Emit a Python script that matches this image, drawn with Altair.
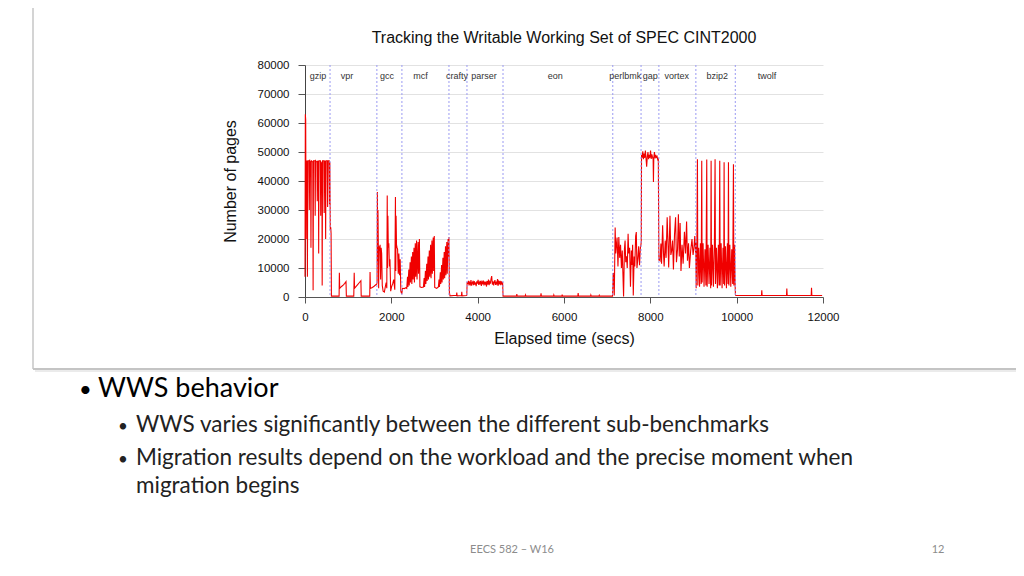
import altair as alt
import pandas as pd

# ---------------- data (time in secs, writable working set in pages) ----------------
gzip = [(0, 7000), (8, 63000), (16, 61000), (24, 20000), (32, 47000), (50, 46500), (56, 7000), (64, 47000),
        (92, 47000), (100, 30000), (108, 47000), (130, 46500), (138, 17000), (146, 47000), (180, 46500),
        (188, 2300), (196, 47000), (228, 47000), (236, 28000), (244, 47000), (276, 46500), (284, 33000),
        (292, 47000), (310, 46500), (317, 15000), (324, 47000), (356, 47000), (364, 28000), (372, 46500),
        (392, 46000), (398, 4000), (406, 47000), (436, 47000), (444, 29000), (452, 47000), (470, 46500),
        (478, 20000), (486, 47000), (516, 47000), (524, 31000), (532, 47000), (560, 47000), (568, 32000),
        (576, 46500), (586, 23000), (596, 24000), (604, 22000), (612, 300)]
vpr = [(640, 300), (790, 300), (796, 8400), (804, 3000), (830, 3400), (860, 3800), (890, 4200), (920, 4700),
       (950, 5300), (958, 300), (1130, 300), (1140, 8400), (1148, 3000), (1180, 3600), (1220, 4300),
       (1260, 5000), (1295, 5600), (1302, 300), (1500, 300), (1507, 8600), (1515, 3000), (1560, 3300),
       (1600, 3700), (1640, 4200), (1662, 4400)]
gcc = [(1670, 5000), (1677, 36200), (1684, 12000), (1690, 30000), (1698, 18400), (1706, 3000), (1716, 17500),
       (1728, 16000), (1740, 18000), (1752, 6000), (1764, 17000), (1776, 15000), (1790, 4000), (1810, 2000),
       (1839, 1700), (1860, 3500), (1880, 5000), (1895, 3000), (1905, 35000), (1912, 10000), (1920, 28000),
       (1930, 17000), (1942, 18500), (1955, 10500), (1968, 13000), (1985, 2000), (2005, 3500), (2030, 4500),
       (2055, 6000), (2080, 2500), (2095, 34500), (2103, 9000), (2110, 28000), (2120, 18000), (2132, 17000),
       (2145, 16500), (2160, 8000), (2175, 15000), (2190, 7500), (2205, 13000), (2220, 2000), (2241, 1000)]
mcf = [(2260, 3000), (2300, 2900), (2340, 3200), (2357, 3000), (2375, 7000), (2385, 3500), (2405, 9500),
       (2415, 4000), (2435, 12000), (2445, 5000), (2465, 14000), (2475, 4500), (2495, 15500), (2505, 6000),
       (2525, 17000), (2535, 5000), (2555, 18500), (2565, 7000), (2585, 19500), (2595, 6000), (2620, 19000),
       (2630, 8000), (2650, 20000), (2662, 3500), (2700, 3300), (2743, 3400), (2760, 6500), (2770, 3500),
       (2790, 9000), (2800, 4500), (2820, 11500), (2830, 5500), (2850, 14000), (2860, 6000), (2880, 16000),
       (2890, 7000), (2910, 18000), (2920, 6500), (2940, 19500), (2950, 8000), (2970, 20500), (2980, 9000),
       (2995, 21000), (3005, 3300), (3050, 3000), (3090, 3500), (3105, 6000), (3115, 3500), (3135, 8500),
       (3145, 4500), (3165, 11000), (3175, 5000), (3195, 13500), (3205, 6000), (3225, 15500), (3235, 6500),
       (3255, 17500), (3265, 7500), (3285, 19000), (3295, 8000), (3315, 20000), (3325, 14000), (3335, 20700),
       (3345, 1500)]
crafty = [(3360, 400), (3450, 500), (3510, 500), (3516, 1500), (3524, 400), (3625, 500), (3632, 1800),
          (3640, 400), (3740, 500)]
parser = [(3748, 600), (3756, 5200), (3770, 4500), (3785, 5600), (3800, 4000), (3815, 5000), (3830, 4400),
          (3845, 5800), (3860, 3900), (3875, 4900), (3890, 5300), (3905, 4100), (3920, 5500), (3935, 4300),
          (3950, 5000), (3965, 3700), (3980, 5400), (3995, 4600), (4010, 5900), (4025, 4200), (4040, 5100),
          (4055, 4400), (4070, 5600), (4085, 3800), (4100, 5200), (4115, 4700), (4130, 5700), (4145, 4000),
          (4160, 5300), (4175, 4500), (4190, 5000), (4205, 3600), (4220, 5500), (4235, 4300), (4250, 6000),
          (4265, 4100), (4280, 5200), (4295, 4600), (4310, 6300), (4325, 7200), (4340, 4300), (4355, 5400),
          (4370, 4000), (4385, 5100), (4400, 5800), (4415, 4200), (4430, 5000), (4445, 4500), (4460, 6200),
          (4475, 3900), (4490, 5300), (4505, 4700), (4520, 5600), (4535, 4100), (4550, 5400), (4565, 4600),
          (4578, 5200), (4588, 300)]
eon = [(4600, 300), (4900, 300), (4907, 1000), (4915, 300), (5100, 300), (5108, 700), (5116, 300),
       (5460, 300), (5468, 1300), (5476, 300), (5757, 300), (5764, 700), (5772, 300), (5950, 300),
       (5958, 800), (5966, 300), (6320, 300), (6328, 1400), (6336, 300), (6615, 300), (6622, 700),
       (6630, 300), (6810, 300), (6817, 600), (6825, 300), (7125, 300)]
perlbmk = [(7140, 8300), (7150, 8000), (7165, 500), (7185, 24000), (7200, 15000), (7215, 18000),
           (7230, 20500), (7250, 10500), (7270, 20700), (7290, 13500), (7310, 18000), (7330, 10000),
           (7350, 16000), (7365, 8000), (7380, 200), (7400, 16500), (7415, 19500), (7430, 12000),
           (7450, 14000), (7465, 10000), (7485, 21800), (7500, 15000), (7520, 17000), (7540, 3500),
           (7560, 16000), (7575, 11000), (7590, 18000), (7605, 500), (7625, 14000), (7640, 10500),
           (7660, 21000), (7675, 22400), (7690, 10000), (7710, 13000), (7730, 17500), (7750, 11000),
           (7770, 17000), (7782, 18000)]
gap = [(7790, 19000), (7796, 49000), (7810, 48000), (7825, 50200), (7840, 47500), (7855, 49500),
       (7870, 48000), (7885, 50500), (7900, 47800), (7915, 44900), (7930, 48500), (7945, 50000),
       (7960, 47500), (7975, 49000), (7990, 48000), (8005, 50500), (8020, 47600), (8035, 49200),
       (8050, 48300), (8065, 47500), (8072, 39700), (8080, 48000), (8095, 50000), (8110, 47800),
       (8125, 49000), (8140, 48200), (8155, 48500), (8170, 47500), (8185, 48000), (8198, 12600)]
vortex = [(8210, 13000), (8225, 12600), (8245, 18400), (8260, 11500), (8285, 24700), (8305, 15000),
          (8320, 10500), (8345, 19500), (8365, 13500), (8390, 27500), (8410, 18000), (8425, 10200),
          (8455, 28000), (8475, 14500), (8495, 16000), (8515, 19500), (8535, 9500), (8560, 21500),
          (8585, 27500), (8605, 12000), (8630, 16500), (8650, 28500), (8670, 14000), (8690, 25500),
          (8710, 9000), (8735, 18000), (8760, 11500), (8790, 22500), (8815, 15000), (8840, 26000),
          (8860, 12500), (8885, 18500), (8905, 10000), (8935, 16000), (8965, 20000), (8990, 14500),
          (9010, 17000), (9030, 21000), (9047, 15500)]
bzip2 = [(9050, 19000), (9062, 3000), (9078, 18000), (9091, 47500), (9100, 4000), (9120, 17000),
         (9140, 3500), (9160, 18500), (9178, 4500), (9191, 47000), (9200, 5000), (9222, 18500),
         (9244, 3500), (9266, 16500), (9288, 4000), (9307, 47400), (9316, 3500), (9338, 18000),
         (9360, 4500), (9382, 17000), (9398, 3000), (9408, 47000), (9418, 4000), (9440, 18000),
         (9462, 3500), (9484, 17500), (9500, 47500), (9510, 4500), (9532, 17000), (9554, 3000),
         (9576, 18000), (9594, 4000), (9608, 47000), (9618, 4000), (9640, 18500), (9662, 3000),
         (9684, 17000), (9700, 4500), (9709, 46500), (9719, 4000), (9741, 17500), (9763, 3000),
         (9785, 18500), (9800, 4500), (9810, 46500), (9820, 4000), (9842, 18000), (9864, 3500),
         (9886, 16500), (9908, 4500), (9925, 45800), (9935, 4000), (9952, 18000), (9965, 3500),
         (9972, 800)]
twolf = [(9980, 500), (10575, 500), (10582, 2300), (10590, 500), (11155, 500), (11162, 2900),
         (11170, 500), (11727, 500), (11734, 3200), (11742, 500), (11980, 500)]

bench_names = ["gzip", "vpr", "gcc", "mcf", "crafty", "parser", "eon",
               "perlbmk", "gap", "vortex", "bzip2", "twolf"]
bench_label_t = [301, 974, 1901, 2677, 3523, 4149, 5795, 7418, 7997, 8611, 9550, 10700]
bench_boundaries = [580, 1665, 2245, 3335, 3752, 4587, 7130, 7785, 8198, 9055, 9968]

x_ticks = [0, 2000, 4000, 6000, 8000, 10000, 12000]
y_ticks = [0, 10000, 20000, 30000, 40000, 50000, 60000, 70000, 80000]

chart_title = "Tracking the Writable Working Set of SPEC CINT2000"
x_title = "Elapsed time (secs)"
y_title = "Number of pages"
bullet_main = "WWS behavior"
bullet_sub = ["WWS varies significantly between the different sub-benchmarks",
              "Migration results depend on the workload and the precise moment when",
              "migration begins"]
footer = "EECS 582 – W16"
page_no = "12"

# ---------------- build tables ----------------
rows = []
for seg in [gzip, vpr, gcc, mcf, crafty, parser, eon, perlbmk, gap, vortex, bzip2, twolf]:
    rows.extend(seg)
df_line = pd.DataFrame(rows, columns=["time", "pages"])
df_div = pd.DataFrame({"t": bench_boundaries})
df_lab = pd.DataFrame({"name": bench_names, "t": bench_label_t})

CF = "Liberation Sans"
SF = "Lato"

xscale = alt.Scale(domain=[0, 12000], nice=False, zero=False)
yscale = alt.Scale(domain=[0, 80000], nice=False)

line = alt.Chart(df_line).mark_line(color="#f00000", strokeWidth=1.1, interpolate="linear").encode(
    x=alt.X("time:Q", scale=xscale,
            axis=alt.Axis(values=x_ticks, format="d", grid=False, labelFlush=False, labelOverlap=False,
                          labelFont=CF, labelFontSize=11.5, labelColor="#111", labelPadding=8,
                          tickSize=6, tickColor="#555", domainColor="#555",
                          title=x_title, titleFont=CF, titleFontSize=16, titleFontWeight="normal",
                          titleColor="#111", titlePadding=8)),
    y=alt.Y("pages:Q", scale=yscale,
            axis=alt.Axis(values=y_ticks, format="d", grid=True, gridColor="#e2e2e2",
                          labelFont=CF, labelFontSize=11.5, labelColor="#111", labelPadding=9,
                          tickSize=7, tickColor="#555", domainColor="#444", labelFlush=False,
                          title=y_title, titleFont=CF, titleFontSize=16, titleFontWeight="normal",
                          titleColor="#111", titlePadding=19)),
)

dividers = alt.Chart(df_div).mark_rule(color="#9a9af2", strokeDash=[2, 2], strokeWidth=1).encode(
    x=alt.X("t:Q", scale=xscale)
)

labels = alt.Chart(df_lab).mark_text(font=CF, fontSize=9, color="#333", align="center",
                                     baseline="alphabetic").encode(
    x=alt.X("t:Q", scale=xscale), y=alt.value(14), text="name:N"
)


def txt(s, x, y, size, color="#000", font=SF, align="left", weight="normal"):
    return alt.Chart(pd.DataFrame({"s": [s]})).mark_text(
        align=align, baseline="alphabetic", font=font, fontSize=size, color=color, fontWeight=weight
    ).encode(x=alt.value(x), y=alt.value(y), text="s:N")


def rule(x, x2, y, y2, color, w):
    return alt.Chart(pd.DataFrame({"a": [0]})).mark_rule(color=color, strokeWidth=w).encode(
        x=alt.value(x), x2=alt.value(x2), y=alt.value(y), y2=alt.value(y2)
    )


frame = [
    rule(-272, -272, -70, 304, "#d4d4d4", 2),
    rule(-272, 720, 304, 304, "#c4c4c4", 2),
    rule(-270, 720, 306, 306, "#e4e4e4", 1.5),
]

title = txt(chart_title, 259, -22, 16, "#111", CF, "center")

slide = [
    txt("•", -226, 332, 22, "#000"),
    txt(bullet_main, -207, 332, 27, "#000"),
    txt("•", -187, 367, 17, "#222"),
    txt(bullet_sub[0], -169, 367, 22.5, "#222"),
    txt("•", -187, 400, 17, "#222"),
    txt(bullet_sub[1], -169, 400, 22.5, "#222"),
    txt(bullet_sub[2], -169, 428, 22.5, "#222"),
    txt(footer, 207, 488, 11, "#8c8c8c", SF, "center"),
    txt(page_no, 633, 488, 11, "#8c8c8c", SF, "center"),
]

chart = alt.layer(*frame, line, dividers, labels, title, *slide).properties(
    width=518, height=232,
    padding={"left": 297, "top": 57, "right": 193, "bottom": 266},
    autosize=alt.AutoSizeParams(type="none"),
    background="white",
).configure_view(stroke=None)

chart.save("out.html", embed_options={"renderer": "svg", "actions": False})
